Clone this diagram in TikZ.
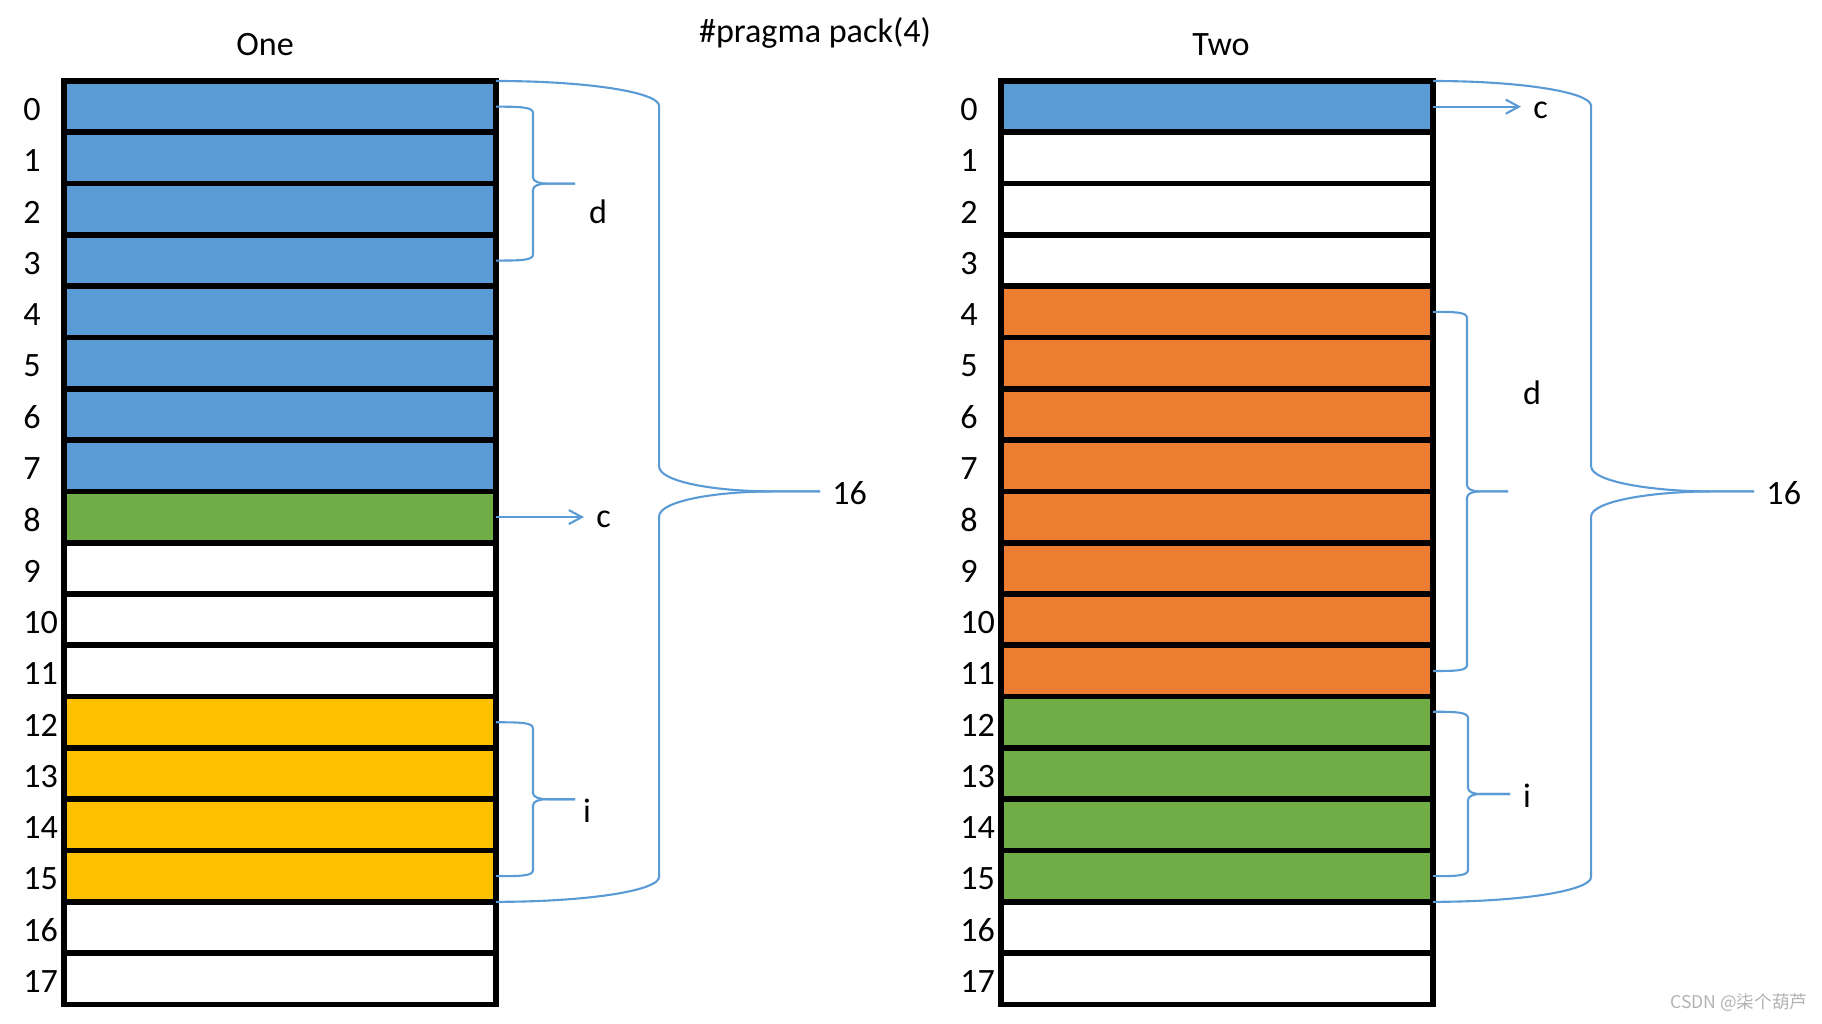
\documentclass[tikz,border=0pt]{standalone}
\usepackage{fontspec}
\setmainfont{Carlito}
\newfontfamily\cjk{Noto Sans CJK SC}
\usetikzlibrary{arrows.meta}
\definecolor{blu}{HTML}{5B9BD5}
\definecolor{grn}{HTML}{70AD47}
\definecolor{ylw}{HTML}{FFC000}
\definecolor{org}{HTML}{ED7D31}
\definecolor{brcblue}{HTML}{5B9BD5}

\begin{document}
\begin{tikzpicture}[
    x=0.01cm, y=-0.01cm,
    cell/.style={draw, line width=1.6pt, minimum width=4.32cm, minimum height=0.513cm, inner sep=0pt, outer sep=0pt},
    idx/.style={anchor=west, font=\fontsize{9.7}{11.6}\selectfont},
    lbl/.style={font=\fontsize{9.7}{11.6}\selectfont},
    brc/.style={draw=brcblue, line width=0.6pt},
    arr/.style={brc, -{Straight Barb[length=3.7pt, width=4pt]}}
]
    \useasboundingbox (0,0) rectangle (1822,1023);

    \node[lbl] (one) at (265,45) {One};
    \node[lbl] (two) at (1221,45) {Two};
    \node[lbl] (pragma) at (815,33) {\#pragma pack(4)};

    % struct One
    \foreach \c [count=\i from 0] in {blu,blu,blu,blu,blu,blu,blu,blu,grn,white,white,white,ylw,ylw,ylw,ylw,white,white} {
        \node[cell, fill=\c] (l\i) at (280,{106.65+51.3*\i}) {};
        \node[idx] (ln\i) at (11,{109.5+51.3*\i}) {\i};
    }
    % struct Two
    \foreach \c [count=\i from 0] in {blu,white,white,white,org,org,org,org,org,org,org,org,grn,grn,grn,grn,white,white} {
        \node[cell, fill=\c] (r\i) at (1217,{106.65+51.3*\i}) {};
        \node[idx] (rn\i) at (948,{109.5+51.3*\i}) {\i};
    }

    \node[lbl] (dLt) at (598,212) {d};
    \node[lbl, anchor=west] (cLt) at (584,519) {c};
    \node[lbl] (iLt) at (587,811) {i};
    \node[lbl, anchor=west] (n16L) at (820,493) {16};
    \node[lbl, anchor=west] (cRt) at (1521,110) {c};
    \node[lbl] (dRt) at (1532,393) {d};
    \node[lbl] (iRt) at (1527,796) {i};
    \node[lbl, anchor=west] (n16R) at (1754,493) {16};

    \coordinate (dL) at (575,183.6);
    \coordinate (iL) at (575,799.2);
    \coordinate (dR) at (1508,491.4);
    \coordinate (iR) at (1510,794);

    % left braces
    \draw[brc] (l0.east) .. controls +(25,0) and +(0,-6) .. (533,113) -- (533,177.4) .. controls +(0,4) and +(-8,0) .. (547,183.6) -- (dL);
    \draw[brc] (l3.east) .. controls +(25,0) and +(0,6) .. (533,254.4) -- (533,189.8) .. controls +(0,-4) and +(-8,0) .. (547,183.6) -- (dL);
    \draw[brc] (l12.east) .. controls +(25,0) and +(0,-6) .. (533,728.5) -- (533,793) .. controls +(0,4) and +(-8,0) .. (547,799.2) -- (iL);
    \draw[brc] (l15.east) .. controls +(25,0) and +(0,6) .. (533,870) -- (533,805.4) .. controls +(0,-4) and +(-8,0) .. (547,799.2) -- (iL);
    \draw[brc] (l0.north east) .. controls +(90,0) and +(0,-14) .. ++(163,25) -- ++(0,360.4) .. controls +(0,15) and +(-60,0) .. ++(114,25) -- (n16L.west |- 0,491.4);
    \draw[brc] (l15.south east) .. controls +(90,0) and +(0,14) .. ++(163,-25) -- ++(0,-360.4) .. controls +(0,-15) and +(-60,0) .. ++(114,-25) -- (n16L.west |- 0,491.4);
    \draw[arr] (l8.east) -- (l8.east -| cLt.west);

    % right braces
    \draw[brc] (r4.east) .. controls +(22,0) and +(0,-6) .. (1467,318) -- (1467,485) .. controls +(0,4) and +(-8,0) .. (1480,491.4) -- (dR);
    \draw[brc] (r11.east) .. controls +(22,0) and +(0,6) .. (1467,665) -- (1467,497.8) .. controls +(0,-4) and +(-8,0) .. (1480,491.4) -- (dR);
    \draw[brc] ([yshift=3pt]r12.east) .. controls +(22,0) and +(0,-6) .. (1468,718) -- (1468,787.8) .. controls +(0,4) and +(-8,0) .. (1481,794) -- (iR);
    \draw[brc] (r15.east) .. controls +(22,0) and +(0,6) .. (1468,870) -- (1468,800.2) .. controls +(0,-4) and +(-8,0) .. (1481,794) -- (iR);
    \draw[brc] (r0.north east) .. controls +(87,0) and +(0,-14) .. ++(158,25) -- ++(0,360.4) .. controls +(0,15) and +(-60,0) .. ++(120,25) -- (n16R.west |- 0,491.4);
    \draw[brc] (r15.south east) .. controls +(87,0) and +(0,14) .. ++(158,-25) -- ++(0,-360.4) .. controls +(0,-15) and +(-60,0) .. ++(120,-25) -- (n16R.west |- 0,491.4);
    \draw[arr] (r0.east) -- (r0.east -| cRt.west);

    \node[anchor=east, inner sep=0pt, text=black!30, font=\cjk\fontsize{5}{6}\selectfont] (wm) at (1808,1003) {CSDN @柒个葫芦};
\end{tikzpicture}
\end{document}
